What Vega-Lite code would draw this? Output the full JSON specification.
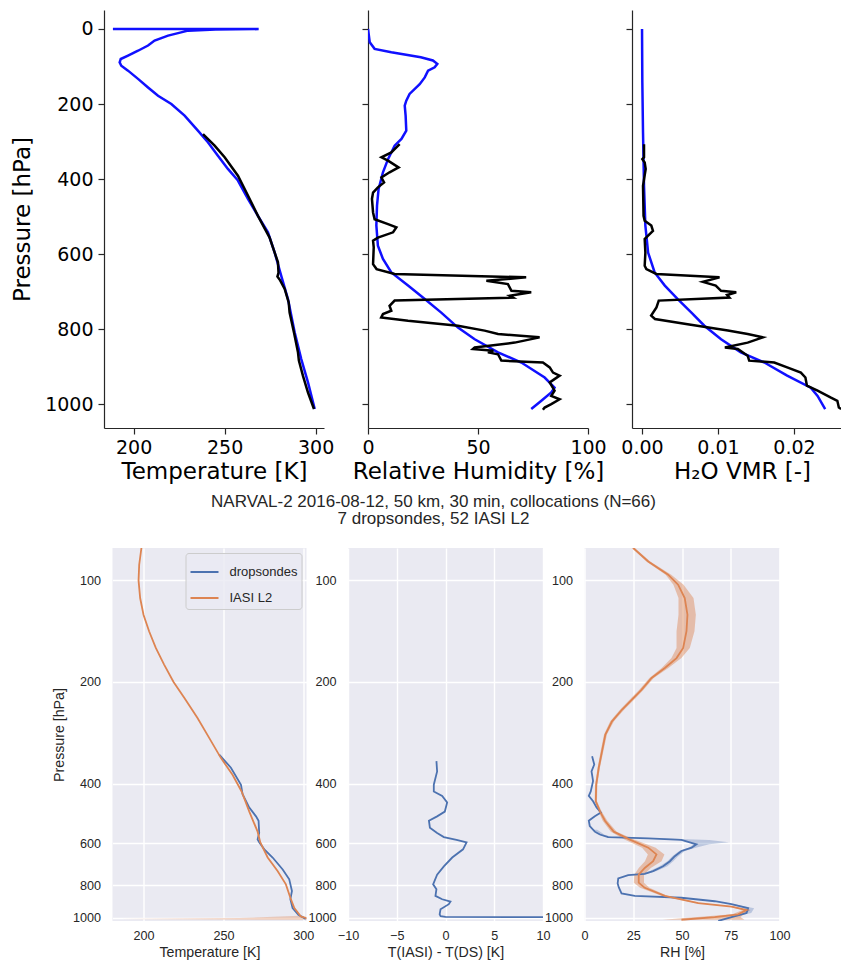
{
  "$schema": "https://vega.github.io/schema/vega-lite/v6.json",
  "background": "white",
  "padding": {"left": 11, "top": 10, "right": 0, "bottom": 0},
  "autosize": {"type": "pad"},
  "config": {"font": "Liberation Sans", "view": {"stroke": null}},
  "datasets": {
    "t_blue": [
      {"T": 188.6, "p": 0}, {"T": 268.7, "p": 0.3}, {"T": 245, "p": 1.5}, {"T": 229.9, "p": 4.4},
      {"T": 218.9, "p": 17.8}, {"T": 211.5, "p": 31}, {"T": 207.9, "p": 44}, {"T": 202.4, "p": 58},
      {"T": 196.9, "p": 71}, {"T": 192.9, "p": 80}, {"T": 192.3, "p": 89}, {"T": 193.2, "p": 98},
      {"T": 196.9, "p": 111}, {"T": 202.4, "p": 133}, {"T": 207.9, "p": 156}, {"T": 213.4, "p": 178},
      {"T": 220.7, "p": 200}, {"T": 228, "p": 231}, {"T": 235.3, "p": 271}, {"T": 240.8, "p": 302},
      {"T": 246.3, "p": 338}, {"T": 251.8, "p": 373}, {"T": 257.3, "p": 404}, {"T": 262.8, "p": 453},
      {"T": 268.3, "p": 498}, {"T": 273.8, "p": 542}, {"T": 277.5, "p": 596}, {"T": 281.1, "p": 658},
      {"T": 284.8, "p": 720}, {"T": 288.5, "p": 809}, {"T": 292.1, "p": 880}, {"T": 295.8, "p": 942},
      {"T": 299.5, "p": 1013}
    ],
    "t_black": [
      {"T": 238.1, "p": 280}, {"T": 244.5, "p": 311}, {"T": 250, "p": 342}, {"T": 257.3, "p": 391},
      {"T": 262.8, "p": 444}, {"T": 268.3, "p": 498}, {"T": 274.7, "p": 556}, {"T": 279.3, "p": 622},
      {"T": 279.6, "p": 650}, {"T": 279, "p": 660}, {"T": 280.5, "p": 670}, {"T": 283, "p": 693},
      {"T": 285.2, "p": 729}, {"T": 285.7, "p": 756}, {"T": 288.1, "p": 809}, {"T": 290.3, "p": 862},
      {"T": 290.8, "p": 884}, {"T": 293, "p": 924}, {"T": 295.8, "p": 969}, {"T": 299.1, "p": 1013}
    ],
    "rh_blue": [
      {"RH": 0, "p": 0}, {"RH": 0.8, "p": 35.6}, {"RH": 3, "p": 53}, {"RH": 10.6, "p": 62},
      {"RH": 24, "p": 75.6}, {"RH": 29.5, "p": 84}, {"RH": 31.5, "p": 93}, {"RH": 30.3, "p": 102},
      {"RH": 27.3, "p": 111}, {"RH": 25.8, "p": 129}, {"RH": 23.5, "p": 147}, {"RH": 18.9, "p": 173},
      {"RH": 17.4, "p": 191}, {"RH": 16.7, "p": 204}, {"RH": 17.1, "p": 231}, {"RH": 17.4, "p": 271},
      {"RH": 15.2, "p": 293}, {"RH": 12.1, "p": 311}, {"RH": 9.1, "p": 347}, {"RH": 6.8, "p": 382},
      {"RH": 4.8, "p": 427}, {"RH": 4.1, "p": 471}, {"RH": 3.8, "p": 524}, {"RH": 4.5, "p": 578},
      {"RH": 6.8, "p": 613}, {"RH": 10.6, "p": 649}, {"RH": 18.2, "p": 684}, {"RH": 25.8, "p": 720},
      {"RH": 33.3, "p": 756}, {"RH": 40.9, "p": 796}, {"RH": 48.5, "p": 827}, {"RH": 59.1, "p": 862},
      {"RH": 69.7, "p": 889}, {"RH": 80.3, "p": 929}, {"RH": 84.8, "p": 956}, {"RH": 83.3, "p": 969},
      {"RH": 78.8, "p": 991}, {"RH": 74.2, "p": 1013}
    ],
    "rh_black": [
      {"RH": 14.4, "p": 307}, {"RH": 10.6, "p": 329}, {"RH": 6.1, "p": 342}, {"RH": 9.1, "p": 351},
      {"RH": 13.9, "p": 369}, {"RH": 9.8, "p": 382}, {"RH": 6.1, "p": 396}, {"RH": 7.3, "p": 409},
      {"RH": 4.5, "p": 422}, {"RH": 2.3, "p": 436}, {"RH": 1.8, "p": 453}, {"RH": 2.3, "p": 489},
      {"RH": 3.0, "p": 507}, {"RH": 9.1, "p": 520}, {"RH": 12.9, "p": 529}, {"RH": 11.4, "p": 542},
      {"RH": 4.5, "p": 556}, {"RH": 2.3, "p": 564}, {"RH": 2.6, "p": 582}, {"RH": 2.3, "p": 627},
      {"RH": 3.9, "p": 640}, {"RH": 12.1, "p": 653}, {"RH": 71.9, "p": 662}, {"RH": 53.8, "p": 671},
      {"RH": 63.6, "p": 680}, {"RH": 65.2, "p": 698}, {"RH": 74.2, "p": 702}, {"RH": 64.4, "p": 711},
      {"RH": 65.9, "p": 716}, {"RH": 12.1, "p": 724}, {"RH": 9.8, "p": 738}, {"RH": 10.6, "p": 751},
      {"RH": 6.8, "p": 760}, {"RH": 6.0, "p": 769}, {"RH": 18.2, "p": 778}, {"RH": 40.9, "p": 791},
      {"RH": 53.0, "p": 804}, {"RH": 59.1, "p": 813}, {"RH": 78.0, "p": 822}, {"RH": 66.7, "p": 836},
      {"RH": 48.5, "p": 849}, {"RH": 47.7, "p": 853}, {"RH": 57.0, "p": 858}, {"RH": 54.5, "p": 862},
      {"RH": 59.1, "p": 867}, {"RH": 60.6, "p": 884}, {"RH": 79.5, "p": 889}, {"RH": 82.6, "p": 902},
      {"RH": 84.1, "p": 916}, {"RH": 87.1, "p": 924}, {"RH": 82.6, "p": 942}, {"RH": 84.8, "p": 964},
      {"RH": 83.3, "p": 978}, {"RH": 87.1, "p": 987}, {"RH": 83.3, "p": 1000}, {"RH": 80.3, "p": 1009},
      {"RH": 79.5, "p": 1015}
    ],
    "vmr_blue": [
      {"q": 0, "p": 0}, {"q": 0.00004, "p": 142}, {"q": 0.00013, "p": 276}, {"q": 0.00026, "p": 418},
      {"q": 0.00044, "p": 524}, {"q": 0.0008, "p": 596}, {"q": 0.00166, "p": 649}, {"q": 0.003, "p": 684},
      {"q": 0.0047, "p": 720}, {"q": 0.0065, "p": 756}, {"q": 0.0082, "p": 791}, {"q": 0.0104, "p": 827},
      {"q": 0.013, "p": 862}, {"q": 0.0161, "p": 889}, {"q": 0.0191, "p": 924}, {"q": 0.0222, "p": 956},
      {"q": 0.0231, "p": 978}, {"q": 0.0241, "p": 1013}
    ],
    "vmr_black": [
      {"q": 0.00026, "p": 307}, {"q": 0.00026, "p": 342}, {"q": 0.00004, "p": 347}, {"q": 0.00035, "p": 356},
      {"q": 0.00048, "p": 373}, {"q": 0.00013, "p": 418}, {"q": 0.0002, "p": 498}, {"q": 0.00035, "p": 511},
      {"q": 0.00122, "p": 524}, {"q": 0.00144, "p": 538}, {"q": 0.0008, "p": 551}, {"q": 0.00035, "p": 560},
      {"q": 0.00044, "p": 596}, {"q": 0.00035, "p": 631}, {"q": 0.00057, "p": 640}, {"q": 0.00188, "p": 653},
      {"q": 0.0102, "p": 662}, {"q": 0.008, "p": 674}, {"q": 0.0097, "p": 684}, {"q": 0.0104, "p": 698},
      {"q": 0.0124, "p": 702}, {"q": 0.0112, "p": 709}, {"q": 0.0115, "p": 716}, {"q": 0.0022, "p": 724},
      {"q": 0.0019, "p": 742}, {"q": 0.0012, "p": 764}, {"q": 0.0017, "p": 773}, {"q": 0.006, "p": 787},
      {"q": 0.0113, "p": 804}, {"q": 0.0139, "p": 813}, {"q": 0.0159, "p": 822}, {"q": 0.0139, "p": 836},
      {"q": 0.0109, "p": 849}, {"q": 0.0126, "p": 853}, {"q": 0.0139, "p": 871}, {"q": 0.0141, "p": 884},
      {"q": 0.0174, "p": 889}, {"q": 0.0191, "p": 902}, {"q": 0.0209, "p": 916}, {"q": 0.0215, "p": 929},
      {"q": 0.0217, "p": 951}, {"q": 0.0231, "p": 964}, {"q": 0.0248, "p": 982}, {"q": 0.0257, "p": 991},
      {"q": 0.0259, "p": 1009}, {"q": 0.0262, "p": 1013}
    ],
    "bt_iasi": [
      {"T": 198.7, "p": 80.2}, {"T": 197.3, "p": 89.9}, {"T": 196.9, "p": 100}, {"T": 197.9, "p": 112.8},
      {"T": 200, "p": 126.4}, {"T": 203.5, "p": 141.5}, {"T": 207.7, "p": 158.5}, {"T": 212.9, "p": 177.6},
      {"T": 218.8, "p": 200}, {"T": 225.5, "p": 222.7}, {"T": 233.8, "p": 255.6}, {"T": 241.1, "p": 292.8},
      {"T": 248.4, "p": 335.5}, {"T": 255.7, "p": 376.7}, {"T": 261.4, "p": 422}, {"T": 266.2, "p": 484},
      {"T": 271.4, "p": 555}, {"T": 273.1, "p": 597}, {"T": 277.7, "p": 662}, {"T": 283.9, "p": 726},
      {"T": 289.1, "p": 795}, {"T": 291.9, "p": 871}, {"T": 294.4, "p": 935}, {"T": 298.5, "p": 990},
      {"T": 303, "p": 1004}
    ],
    "bt_band": [
      {"lo": 297.5, "hi": 299.5, "p": 985}, {"lo": 260, "hi": 302, "p": 1000}, {"lo": 185, "hi": 303, "p": 1007},
      {"lo": 280, "hi": 303, "p": 1012}
    ],
    "bt_ds": [
      {"T": 247.4, "p": 328}, {"T": 254.7, "p": 359}, {"T": 261, "p": 403}, {"T": 262, "p": 430},
      {"T": 266.2, "p": 471}, {"T": 270.4, "p": 500}, {"T": 272, "p": 515}, {"T": 272.4, "p": 560},
      {"T": 271.4, "p": 585}, {"T": 272.4, "p": 597}, {"T": 275.6, "p": 626}, {"T": 280.8, "p": 662},
      {"T": 287.1, "p": 718}, {"T": 291.2, "p": 768}, {"T": 292.9, "p": 832}, {"T": 291.9, "p": 880},
      {"T": 293.3, "p": 935}, {"T": 296.9, "p": 978}, {"T": 301.5, "p": 1006}
    ],
    "bdt": [
      {"dT": -0.93, "p": 343}, {"dT": -0.86, "p": 368}, {"dT": -1.2, "p": 403}, {"dT": -1.2, "p": 422},
      {"dT": -0.34, "p": 435}, {"dT": 0.17, "p": 455}, {"dT": -0.07, "p": 484}, {"dT": -0.86, "p": 500},
      {"dT": -1.7, "p": 515}, {"dT": -1.6, "p": 540}, {"dT": -0.86, "p": 560}, {"dT": -0.17, "p": 576},
      {"dT": 1.13, "p": 587}, {"dT": 2.16, "p": 597}, {"dT": 1.8, "p": 626}, {"dT": 0.69, "p": 662},
      {"dT": -0.17, "p": 703}, {"dT": -0.86, "p": 744}, {"dT": -1.27, "p": 795}, {"dT": -0.93, "p": 822},
      {"dT": -1.03, "p": 860}, {"dT": -0.34, "p": 880}, {"dT": 0.51, "p": 894}, {"dT": 0.34, "p": 910},
      {"dT": -0.51, "p": 942}, {"dT": -0.6, "p": 975}, {"dT": -0.5, "p": 988}, {"dT": 0, "p": 992},
      {"dT": 12, "p": 995}
    ],
    "brh_iasi": [
      {"RH": 25.0, "lo": 24.2, "hi": 25.8, "p": 80.2}, {"RH": 32.7, "lo": 31.7, "hi": 33.7, "p": 87.9},
      {"RH": 42.9, "lo": 41.6, "hi": 44.5, "p": 96.2}, {"RH": 48.0, "lo": 45.6, "hi": 50.8, "p": 103},
      {"RH": 51.4, "lo": 48.2, "hi": 55.9, "p": 112.8}, {"RH": 52.8, "lo": 48.2, "hi": 57.1, "p": 126.4},
      {"RH": 52.3, "lo": 47.2, "hi": 56.4, "p": 141.5}, {"RH": 50.6, "lo": 47.2, "hi": 54.0, "p": 158.5},
      {"RH": 47.2, "lo": 44.6, "hi": 49.7, "p": 169.9}, {"RH": 41.2, "lo": 39.6, "hi": 43.0, "p": 181.8},
      {"RH": 34.4, "lo": 33.3, "hi": 35.5, "p": 194.6}, {"RH": 29.2, "lo": 28.1, "hi": 30.3, "p": 211},
      {"RH": 25.2, "lo": 24.1, "hi": 26.4, "p": 222.7}, {"RH": 19.3, "lo": 18.3, "hi": 20.4, "p": 241.3},
      {"RH": 14.1, "lo": 13.2, "hi": 15.1, "p": 261.6}, {"RH": 10.7, "lo": 10.0, "hi": 11.5, "p": 286.1},
      {"RH": 9.0, "lo": 8.3, "hi": 9.7, "p": 320.4}, {"RH": 7.3, "lo": 6.7, "hi": 7.9, "p": 359},
      {"RH": 6.0, "lo": 5.4, "hi": 6.6, "p": 403}, {"RH": 5.8, "lo": 5.2, "hi": 6.4, "p": 451},
      {"RH": 8.0, "lo": 7.2, "hi": 8.8, "p": 484}, {"RH": 10.5, "lo": 9.3, "hi": 11.7, "p": 515},
      {"RH": 15.0, "lo": 13.5, "hi": 16.5, "p": 555}, {"RH": 23.0, "lo": 20.5, "hi": 25.5, "p": 585},
      {"RH": 32.7, "lo": 29.5, "hi": 36.5, "p": 619}, {"RH": 36.9, "lo": 32.5, "hi": 41.0, "p": 648},
      {"RH": 35.2, "lo": 31.0, "hi": 39.5, "p": 679}, {"RH": 30.9, "lo": 27.8, "hi": 34.0, "p": 711},
      {"RH": 27.8, "lo": 25.5, "hi": 30.5, "p": 744}, {"RH": 27.8, "lo": 25.3, "hi": 30.5, "p": 786},
      {"RH": 30.9, "lo": 28.5, "hi": 33.3, "p": 814}, {"RH": 41.2, "lo": 39.7, "hi": 42.7, "p": 860},
      {"RH": 58.3, "lo": 56.8, "hi": 59.8, "p": 903}, {"RH": 75.4, "lo": 73.9, "hi": 76.9, "p": 925},
      {"RH": 83.1, "lo": 81.1, "hi": 85.1, "p": 947}, {"RH": 78.8, "lo": 75.8, "hi": 81.8, "p": 975},
      {"RH": 66.8, "lo": 58.0, "hi": 80.0, "p": 994}, {"RH": 49.7, "lo": 40.0, "hi": 82.0, "p": 1012}
    ],
    "brh_ds": [
      {"RH": 3.9, "p": 332}, {"RH": 5.0, "p": 351}, {"RH": 3.6, "p": 368}, {"RH": 4.4, "p": 393},
      {"RH": 3.2, "p": 422}, {"RH": 2.2, "p": 435}, {"RH": 4.4, "p": 451}, {"RH": 6.2, "p": 471},
      {"RH": 8.4, "p": 487}, {"RH": 5.3, "p": 500}, {"RH": 2.2, "p": 515}, {"RH": 2.7, "p": 534},
      {"RH": 5.3, "p": 555}, {"RH": 7.9, "p": 566}, {"RH": 12.1, "p": 576}, {"RH": 32.7, "p": 581},
      {"RH": 49.7, "p": 587}, {"RH": 57.4, "p": 605}, {"RH": 54.9, "p": 619}, {"RH": 49.7, "p": 633},
      {"RH": 46.3, "p": 656}, {"RH": 43.8, "p": 679}, {"RH": 40.3, "p": 703}, {"RH": 35.2, "p": 726},
      {"RH": 30.9, "p": 740}, {"RH": 22.4, "p": 746}, {"RH": 17.3, "p": 764}, {"RH": 17.0, "p": 790},
      {"RH": 17.6, "p": 812}, {"RH": 19.0, "p": 846}, {"RH": 25.8, "p": 860}, {"RH": 49.7, "p": 871},
      {"RH": 66.8, "p": 892}, {"RH": 75.4, "p": 910}, {"RH": 83.9, "p": 935}, {"RH": 83.1, "p": 967},
      {"RH": 75.4, "p": 994}, {"RH": 68.6, "p": 1020}
    ],
    "brh_ds_band": [
      {"seg": "a", "lo": 4, "hi": 6.5, "p": 548}, {"seg": "a", "lo": 5.5, "hi": 9, "p": 560}, {"seg": "a", "lo": 7, "hi": 10, "p": 566},
      {"seg": "a", "lo": 11, "hi": 14, "p": 576}, {"seg": "a", "lo": 30, "hi": 38, "p": 581}, {"seg": "a", "lo": 48, "hi": 64, "p": 587},
      {"seg": "a", "lo": 55, "hi": 74, "p": 597}, {"seg": "a", "lo": 56, "hi": 64, "p": 605}, {"seg": "a", "lo": 53.5, "hi": 57, "p": 619},
      {"seg": "a", "lo": 48.5, "hi": 51.5, "p": 633}, {"seg": "a", "lo": 45, "hi": 48, "p": 656}, {"seg": "a", "lo": 42.5, "hi": 45.5, "p": 679},
      {"seg": "a", "lo": 38.5, "hi": 42.5, "p": 703}, {"seg": "a", "lo": 33.5, "hi": 37, "p": 726}, {"seg": "a", "lo": 29.5, "hi": 32, "p": 740},
      {"seg": "b", "lo": 74, "hi": 77, "p": 910}, {"seg": "b", "lo": 82, "hi": 87, "p": 935}, {"seg": "b", "lo": 82, "hi": 85.5, "p": 967},
      {"seg": "b", "lo": 75, "hi": 76.5, "p": 994}
    ]
  },
  "vconcat": [
    {
      "hconcat": [
        {
          "width": 1, "height": 418,
          "data": {"values": []},
          "mark": {"type": "point", "opacity": 0},
          "encoding": {},
          "view": {"stroke": null, "fill": null}
        },
        {
          "width": 220, "height": 418,
          "view": {"stroke": null},
          "layer": [
            {"data": {"name": "t_blue"}, "mark": {"type": "line", "color": "#1010ff", "strokeWidth": 2.5, "clip": true},
             "encoding": {"x": {"field": "T", "type": "quantitative"}, "y": {"field": "p", "type": "quantitative"}, "order": {"field": "p"}}},
            {"data": {"name": "t_black"}, "mark": {"type": "line", "color": "black", "strokeWidth": 2.5, "clip": true},
             "encoding": {"x": {"field": "T", "type": "quantitative"}, "y": {"field": "p", "type": "quantitative"}, "order": {"field": "p"}}}
          ],
          "encoding": {
            "x": {"field": "T", "type": "quantitative", "scale": {"domain": [183.7, 304.6], "nice": false, "zero": false},
              "axis": {"title": "Temperature [K]", "values": [200, 250, 300], "grid": false, "domainColor": "#262626", "domainWidth": 1.2, "tickColor": "#262626", "tickSize": 6, "tickWidth": 1.2, "labelFont": "DejaVu Sans", "labelFontSize": 19, "labelColor": "black", "labelPadding": 4, "labelFlush": false, "labelOverlap": false, "titleFont": "DejaVu Sans", "titleFontSize": 23, "titleFontWeight": "normal", "titleColor": "black", "titlePadding": 3}},
            "y": {"field": "p", "type": "quantitative", "scale": {"domain": [-50.6, 1063.6], "reverse": true, "nice": false, "zero": false},
              "axis": {"title": "Pressure [hPa]", "values": [0, 200, 400, 600, 800, 1000], "format": "d", "grid": false, "domainColor": "#262626", "domainWidth": 1.2, "tickColor": "#262626", "tickSize": 6, "tickWidth": 1.2, "labelFont": "DejaVu Sans", "labelFontSize": 19, "labelColor": "black", "labelPadding": 5, "labelOverlap": false, "titleFont": "DejaVu Sans", "titleFontSize": 23, "titleFontWeight": "normal", "titleColor": "black", "titlePadding": 10}}
          }
        },
        {
          "width": 220, "height": 418,
          "view": {"stroke": null},
          "layer": [
            {"data": {"name": "rh_blue"}, "mark": {"type": "line", "color": "#1010ff", "strokeWidth": 2.5, "clip": true},
             "encoding": {"x": {"field": "RH", "type": "quantitative"}, "y": {"field": "p", "type": "quantitative"}, "order": {"field": "p"}}},
            {"data": {"name": "rh_black"}, "mark": {"type": "line", "color": "black", "strokeWidth": 2.5, "clip": true},
             "encoding": {"x": {"field": "RH", "type": "quantitative"}, "y": {"field": "p", "type": "quantitative"}, "order": {"field": "p"}}}
          ],
          "encoding": {
            "x": {"field": "RH", "type": "quantitative", "scale": {"domain": [0, 100], "nice": false, "zero": false},
              "axis": {"title": "Relative Humidity [%]", "values": [0, 50, 100], "grid": false, "domainColor": "#262626", "domainWidth": 1.2, "tickColor": "#262626", "tickSize": 6, "tickWidth": 1.2, "labelFont": "DejaVu Sans", "labelFontSize": 19, "labelColor": "black", "labelPadding": 4, "labelFlush": false, "labelOverlap": false, "titleFont": "DejaVu Sans", "titleFontSize": 23, "titleFontWeight": "normal", "titleColor": "black", "titlePadding": 3}},
            "y": {"field": "p", "type": "quantitative", "scale": {"domain": [-50.6, 1063.6], "reverse": true, "nice": false, "zero": false},
              "axis": {"title": null, "labels": false, "values": [0, 200, 400, 600, 800, 1000], "grid": false, "domainColor": "#262626", "domainWidth": 1.2, "tickColor": "#262626", "tickSize": 6, "tickWidth": 1.2}}
          }
        },
        {
          "width": 220, "height": 418,
          "view": {"stroke": null},
          "layer": [
            {"data": {"name": "vmr_blue"}, "mark": {"type": "line", "color": "#1010ff", "strokeWidth": 2.5, "clip": true},
             "encoding": {"x": {"field": "q", "type": "quantitative"}, "y": {"field": "p", "type": "quantitative"}, "order": {"field": "p"}}},
            {"data": {"name": "vmr_black"}, "mark": {"type": "line", "color": "black", "strokeWidth": 2.5, "clip": true},
             "encoding": {"x": {"field": "q", "type": "quantitative"}, "y": {"field": "p", "type": "quantitative"}, "order": {"field": "p"}}}
          ],
          "encoding": {
            "x": {"field": "q", "type": "quantitative", "scale": {"domain": [-0.00132, 0.02763], "nice": false, "zero": false},
              "axis": {"title": "H₂O VMR [-]", "values": [0, 0.01, 0.02], "format": ".2f", "grid": false, "domainColor": "#262626", "domainWidth": 1.2, "tickColor": "#262626", "tickSize": 6, "tickWidth": 1.2, "labelFont": "DejaVu Sans", "labelFontSize": 19, "labelColor": "black", "labelPadding": 4, "labelFlush": false, "labelOverlap": false, "titleFont": "DejaVu Sans", "titleFontSize": 23, "titleFontWeight": "normal", "titleColor": "black", "titlePadding": 3}},
            "y": {"field": "p", "type": "quantitative", "scale": {"domain": [-50.6, 1063.6], "reverse": true, "nice": false, "zero": false},
              "axis": {"title": null, "labels": false, "values": [0, 200, 400, 600, 800, 1000], "grid": false, "domainColor": "#262626", "domainWidth": 1.2, "tickColor": "#262626", "tickSize": 6, "tickWidth": 1.2}}
          }
        }
      ],
      "spacing": 44,
      "bounds": "flush"
    },
    {
      "hconcat": [
        {
          "width": 11.9, "height": 373,
          "data": {"values": []},
          "mark": {"type": "point", "opacity": 0},
          "encoding": {},
          "view": {"stroke": null, "fill": null}
        },
        {
          "width": 194, "height": 373,
          "view": {"stroke": null, "fill": "#EAEAF2"},
          "layer": [
            {"data": {"name": "bt_band"}, "mark": {"type": "area", "orient": "horizontal", "color": "#DD8452", "opacity": 0.35, "clip": true},
             "encoding": {"x": {"field": "lo", "type": "quantitative"}, "x2": {"field": "hi"}, "y": {"field": "p", "type": "quantitative"}}},
            {"data": {"name": "bt_ds"}, "mark": {"type": "line", "strokeWidth": 1.8, "clip": true},
             "encoding": {"x": {"field": "T", "type": "quantitative"}, "y": {"field": "p", "type": "quantitative"}, "order": {"field": "p"},
               "color": {"datum": "dropsondes", "type": "nominal",
                 "scale": {"domain": ["dropsondes", "IASI L2"], "range": ["#4C72B0", "#DD8452"]},
                 "legend": {"title": null, "orient": "top-right", "offset": 5, "fillColor": "rgba(234,234,242,0.8)", "strokeColor": "#cccccc", "cornerRadius": 3, "padding": 4, "symbolType": "stroke", "symbolStrokeWidth": 2, "symbolSize": 784, "labelFont": "Liberation Sans", "labelFontSize": 13, "labelColor": "#262626", "labelOffset": 10, "rowPadding": 4}}}},
            {"data": {"name": "bt_iasi"}, "mark": {"type": "line", "strokeWidth": 1.8, "clip": true},
             "encoding": {"x": {"field": "T", "type": "quantitative"}, "y": {"field": "p", "type": "quantitative"}, "order": {"field": "p"},
               "color": {"datum": "IASI L2", "type": "nominal"}}}
          ],
          "encoding": {
            "x": {"field": "T", "type": "quantitative", "scale": {"domain": [180.6, 302.0], "nice": false, "zero": false},
              "axis": {"title": "Temperature [K]", "values": [200, 250, 300], "grid": true, "gridColor": "white", "gridWidth": 1.4, "domain": false, "ticks": false, "labelFont": "Liberation Sans", "labelFontSize": 12.6, "labelColor": "#262626", "labelPadding": 8, "labelFlush": false, "labelOverlap": false, "titleFont": "Liberation Sans", "titleFontSize": 14.2, "titleFontWeight": "normal", "titleColor": "#262626", "titlePadding": 4}},
            "y": {"field": "p", "type": "quantitative", "scale": {"type": "log", "domain": [80.2, 1020.7], "reverse": true, "nice": false, "zero": false},
              "axis": {"title": "Pressure [hPa]", "values": [100, 200, 400, 600, 800, 1000], "format": "d", "grid": true, "gridColor": "white", "gridWidth": 1.4, "domain": false, "ticks": false, "labelFont": "Liberation Sans", "labelFontSize": 12.6, "labelColor": "#262626", "labelPadding": 12, "labelOverlap": false, "titleFont": "Liberation Sans", "titleFontSize": 14.2, "titleFontWeight": "normal", "titleColor": "#262626", "titlePadding": 6}}
          }
        },
        {
          "width": 195, "height": 373,
          "view": {"stroke": null, "fill": "#EAEAF2"},
          "title": {"text": ["NARVAL-2 2016-08-12, 50 km, 30 min, collocations (N=66)", "7 dropsondes, 52 IASI L2"], "anchor": "middle", "frame": "group", "dx": -12, "offset": 20, "fontSize": 17, "font": "Liberation Sans", "fontWeight": "normal", "color": "#262626", "lineHeight": 17.5},
          "layer": [
            {"data": {"values": [{}]}, "mark": {"type": "rule", "color": "#808080", "strokeDash": [4, 2], "strokeWidth": 1.2},
             "encoding": {"x": {"datum": 0, "type": "quantitative"}}},
            {"data": {"name": "bdt"}, "mark": {"type": "line", "color": "#4C72B0", "strokeWidth": 1.8, "clip": true},
             "encoding": {"x": {"field": "dT", "type": "quantitative"}, "y": {"field": "p", "type": "quantitative"}, "order": {"field": "p"}}}
          ],
          "encoding": {
            "x": {"field": "dT", "type": "quantitative", "scale": {"domain": [-10, 10], "nice": false, "zero": false},
              "axis": {"title": "T(IASI) - T(DS) [K]", "values": [-10, -5, 0, 5, 10], "grid": true, "gridColor": "white", "gridWidth": 1.4, "domain": false, "ticks": false, "labelFont": "Liberation Sans", "labelFontSize": 12.6, "labelColor": "#262626", "labelPadding": 8, "labelFlush": false, "labelOverlap": false, "titleFont": "Liberation Sans", "titleFontSize": 14.2, "titleFontWeight": "normal", "titleColor": "#262626", "titlePadding": 4}},
            "y": {"field": "p", "type": "quantitative", "scale": {"type": "log", "domain": [80.2, 1020.7], "reverse": true, "nice": false, "zero": false},
              "axis": {"title": null, "values": [100, 200, 400, 600, 800, 1000], "format": "d", "grid": true, "gridColor": "white", "gridWidth": 1.4, "domain": false, "ticks": false, "labelFont": "Liberation Sans", "labelFontSize": 12.6, "labelColor": "#262626", "labelPadding": 12, "labelOverlap": false}}
          }
        },
        {
          "width": 195, "height": 373,
          "view": {"stroke": null, "fill": "#EAEAF2"},
          "layer": [
            {"data": {"name": "brh_iasi"}, "mark": {"type": "area", "orient": "horizontal", "color": "#DD8452", "opacity": 0.45, "clip": true},
             "encoding": {"x": {"field": "lo", "type": "quantitative"}, "x2": {"field": "hi"}, "y": {"field": "p", "type": "quantitative"}}},
            {"data": {"name": "brh_ds_band"}, "mark": {"type": "area", "orient": "horizontal", "color": "#4C72B0", "opacity": 0.3, "clip": true},
             "encoding": {"x": {"field": "lo", "type": "quantitative"}, "x2": {"field": "hi"}, "y": {"field": "p", "type": "quantitative"}, "detail": {"field": "seg", "type": "nominal"}}},
            {"data": {"name": "brh_ds"}, "mark": {"type": "line", "color": "#4C72B0", "strokeWidth": 1.8, "clip": true},
             "encoding": {"x": {"field": "RH", "type": "quantitative"}, "y": {"field": "p", "type": "quantitative"}, "order": {"field": "p"}}},
            {"data": {"name": "brh_iasi"}, "mark": {"type": "line", "color": "#DD8452", "strokeWidth": 1.8, "clip": true},
             "encoding": {"x": {"field": "RH", "type": "quantitative"}, "y": {"field": "p", "type": "quantitative"}, "order": {"field": "p"}}}
          ],
          "encoding": {
            "x": {"field": "RH", "type": "quantitative", "scale": {"domain": [0, 100], "nice": false, "zero": false},
              "axis": {"title": "RH [%]", "values": [0, 25, 50, 75, 100], "grid": true, "gridColor": "white", "gridWidth": 1.4, "domain": false, "ticks": false, "labelFont": "Liberation Sans", "labelFontSize": 12.6, "labelColor": "#262626", "labelPadding": 8, "labelFlush": false, "labelOverlap": false, "titleFont": "Liberation Sans", "titleFontSize": 14.2, "titleFontWeight": "normal", "titleColor": "#262626", "titlePadding": 4}},
            "y": {"field": "p", "type": "quantitative", "scale": {"type": "log", "domain": [80.2, 1020.7], "reverse": true, "nice": false, "zero": false},
              "axis": {"title": null, "values": [100, 200, 400, 600, 800, 1000], "format": "d", "grid": true, "gridColor": "white", "gridWidth": 1.4, "domain": false, "ticks": false, "labelFont": "Liberation Sans", "labelFontSize": 12.6, "labelColor": "#262626", "labelPadding": 12, "labelOverlap": false}}
          }
        }
      ],
      "spacing": 41.5,
      "bounds": "flush",
      "resolve": {"scale": {"color": "independent"}, "legend": {"color": "independent"}}
    }
  ],
  "spacing": 9,
  "resolve": {"scale": {"color": "independent"}, "legend": {"color": "independent"}}
}
